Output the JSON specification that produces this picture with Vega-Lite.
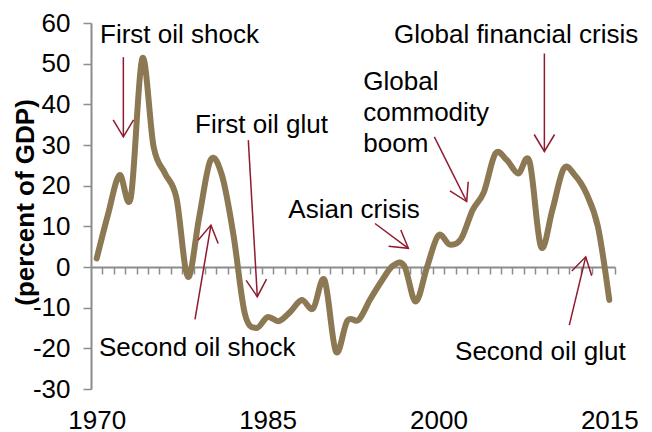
{
  "$schema": "https://vega.github.io/schema/vega-lite/v6.json",
  "width": 524,
  "height": 366,
  "autosize": {"type": "none"},
  "padding": {"left": 91, "top": 23, "right": 37, "bottom": 43},
  "background": "white",
  "view": {"stroke": null},
  "datasets": {
    "series": [
      {"year": 1970, "value": 2.1}, {"year": 1971, "value": 13}, {"year": 1972, "value": 22.6},
      {"year": 1973, "value": 17.2}, {"year": 1974, "value": 51.3}, {"year": 1975, "value": 29.5},
      {"year": 1976, "value": 23}, {"year": 1977, "value": 17}, {"year": 1978, "value": -2.4},
      {"year": 1979, "value": 12.3}, {"year": 1980, "value": 26.3}, {"year": 1981, "value": 22.5},
      {"year": 1982, "value": 8}, {"year": 1983, "value": -11.4}, {"year": 1984, "value": -15},
      {"year": 1985, "value": -12.3}, {"year": 1986, "value": -13.3}, {"year": 1987, "value": -11},
      {"year": 1988, "value": -8.1}, {"year": 1989, "value": -10.2}, {"year": 1990, "value": -3.2},
      {"year": 1991, "value": -20.8}, {"year": 1992, "value": -13.2}, {"year": 1993, "value": -13},
      {"year": 1994, "value": -8}, {"year": 1995, "value": -3.5}, {"year": 1996, "value": 0.3},
      {"year": 1997, "value": 0.3}, {"year": 1998, "value": -8.5}, {"year": 1999, "value": 0},
      {"year": 2000, "value": 7.8}, {"year": 2001, "value": 5.5}, {"year": 2002, "value": 7},
      {"year": 2003, "value": 14}, {"year": 2004, "value": 18.5}, {"year": 2005, "value": 27.9},
      {"year": 2006, "value": 26.3}, {"year": 2007, "value": 23}, {"year": 2008, "value": 25.9},
      {"year": 2009, "value": 5}, {"year": 2010, "value": 14}, {"year": 2011, "value": 24.2},
      {"year": 2012, "value": 22.5}, {"year": 2013, "value": 18}, {"year": 2014, "value": 9.9},
      {"year": 2015, "value": -8.1}
    ],
    "arrows": [
      {"event": "First oil shock", "year": 1972.34, "value": 51.6, "year2": 1972.34, "value2": 32.0},
      {"event": "Second oil shock", "year": 1978.63, "value": -12.9, "year2": 1980.03, "value2": 10.3},
      {"event": "First oil glut", "year": 1983.31, "value": 31.2, "year2": 1984.1, "value2": -7.3},
      {"event": "Asian crisis", "year": 1994.43, "value": 10.7, "year2": 1997.36, "value2": 4.6},
      {"event": "Global commodity boom", "year": 1999.64, "value": 32.0, "year2": 2002.48, "value2": 16.1},
      {"event": "Global financial crisis", "year": 2009.3, "value": 52.5, "year2": 2009.3, "value2": 28.4},
      {"event": "Second oil glut", "year": 2011.49, "value": -14.3, "year2": 2012.93, "value2": 2.5}
    ],
    "labels": [
      {"label": "First oil shock", "year": 1970.29, "value": 55.0},
      {"label": "Global financial crisis", "year": 1996.1, "value": 55.1},
      {"label": "First oil glut", "year": 1978.63, "value": 32.95},
      {"label": "Asian crisis", "year": 1986.82, "value": 12.12},
      {"label": "Global\ncommodity\nboom", "year": 1993.41, "value": 43.5},
      {"label": "Second oil shock", "year": 1970.2, "value": -21.8},
      {"label": "Second oil glut", "year": 2001.46, "value": -22.9}
    ]
  },
  "encoding": {
    "x": {
      "field": "year",
      "type": "quantitative",
      "scale": {"domain": [1969.5, 2015.5], "nice": false, "zero": false},
      "axis": {
        "values": [1970,1971,1972,1973,1974,1975,1976,1977,1978,1979,1980,1981,1982,1983,1984,1985,1986,1987,1988,1989,1990,1991,1992,1993,1994,1995,1996,1997,1998,1999,2000,2001,2002,2003,2004,2005,2006,2007,2008,2009,2010,2011,2012,2013,2014,2015],
        "format": "d",
        "labelExpr": "(datum.value - 1970) % 15 === 0 ? datum.label : ''",
        "title": null,
        "grid": false,
        "offset": -122,
        "tickOffset": 5.7,
        "labelOffset": -5.7,
        "tickSize": 7,
        "tickWidth": 1.5,
        "tickColor": "#8C8C8C",
        "domainColor": "#8C8C8C",
        "domainWidth": 2,
        "labelPadding": 133,
        "labelFont": "Liberation Sans",
        "labelFontSize": 26,
        "labelColor": "#000000",
        "labelFlush": false,
        "labelOverlap": false,
        "labelBound": false
      }
    },
    "y": {
      "field": "value",
      "type": "quantitative",
      "scale": {"domain": [-30, 60], "nice": false, "zero": false},
      "axis": {
        "values": [-30, -20, -10, 0, 10, 20, 30, 40, 50, 60],
        "labelExpr": "'' + datum.value",
        "grid": false,
        "tickSize": 8,
        "tickWidth": 1.5,
        "tickColor": "#8C8C8C",
        "domainColor": "#8C8C8C",
        "domainWidth": 2,
        "labelPadding": 13,
        "labelFont": "Liberation Sans",
        "labelFontSize": 26,
        "labelColor": "#000000",
        "labelFlush": false,
        "labelOverlap": false,
        "title": "(percent of GDP)",
        "titleFont": "Liberation Sans",
        "titleFontSize": 26,
        "titleFontWeight": "bold",
        "titleColor": "#000000",
        "titleAngle": -90,
        "titleBaseline": "alphabetic",
        "titleX": -58,
        "titleY": 179
      }
    }
  },
  "layer": [
    {
      "data": {"name": "series"},
      "mark": {"type": "line", "interpolate": "cardinal", "tension": 0, "color": "#8C7853", "strokeWidth": 6, "strokeCap": "round", "strokeJoin": "round"}
    },
    {
      "data": {"name": "arrows"},
      "mark": {"type": "rule", "color": "#8E1B2F", "strokeWidth": 1.5},
      "encoding": {"x2": {"field": "year2"}, "y2": {"field": "value2"}}
    },
    {
      "data": {"name": "arrows"},
      "transform": [
        {"calculate": "atan2(-(datum.year2 - datum.year) * 11.39, -(datum.value2 - datum.value) * 4.067) * 180 / PI", "as": "ang"}
      ],
      "mark": {"type": "point", "shape": "M-0.6,-1L0,0L0.6,-1", "filled": false, "size": 1156, "strokeWidth": 1.5, "color": "#8E1B2F", "opacity": 1},
      "encoding": {
        "x": {"field": "year2", "type": "quantitative"},
        "y": {"field": "value2", "type": "quantitative"},
        "angle": {"field": "ang", "type": "quantitative", "scale": null}
      }
    },
    {
      "data": {"name": "labels"},
      "mark": {"type": "text", "align": "left", "baseline": "alphabetic", "font": "Liberation Sans", "fontSize": 26, "color": "#000000", "lineBreak": "\n", "lineHeight": 31},
      "encoding": {"text": {"field": "label"}}
    }
  ]
}
